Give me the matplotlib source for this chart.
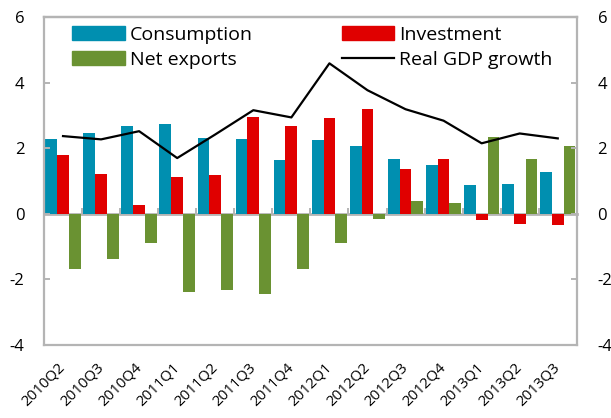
import matplotlib.pyplot as plt
import numpy as np
from matplotlib.patches import Patch
from matplotlib.lines import Line2D

plt.rcParams['font.family'] = ['Open Sans', 'DejaVu Sans']

quarters = ["2010Q2", "2010Q3", "2010Q4", "2011Q1", "2011Q2", "2011Q3", "2011Q4",
            "2012Q1", "2012Q2", "2012Q3", "2012Q4", "2013Q1", "2013Q2", "2013Q3"]
consumption = [2.28, 2.45, 2.67, 2.74, 2.32, 2.28, 1.65, 2.24, 2.06, 1.67, 1.49, 0.87, 0.91, 1.27]
investment = [1.79, 1.20, 0.27, 1.12, 1.17, 2.95, 2.68, 2.91, 3.19, 1.37, 1.67, -0.19, -0.32, -0.34]
net_exports = [-1.68, -1.39, -0.90, -2.40, -2.32, -2.45, -1.68, -0.88, -0.17, 0.40, 0.33, 2.33, 1.66, 2.08]
gdp_growth = [2.37, 2.27, 2.52, 1.70, 2.42, 3.16, 2.94, 4.59, 3.77, 3.19, 2.84, 2.15, 2.45, 2.30]

blue = "#008fb0"
red = "#e00000"
green = "#6a9232"
grey = "#b4b4b4"

fig = plt.figure(figsize=(6.11, 4.18), dpi=100)
ax = fig.add_axes([0.072, 0.175, 0.872, 0.784])

x = np.arange(len(quarters))
w = 0.31
ax.bar(x - w, consumption, w, color=blue, align='center')
ax.bar(x, investment, w, color=red, align='center')
ax.bar(x + w, net_exports, w, color=green, align='center')
ax.plot(x, gdp_growth, color="black", lw=1.6)

ax.set_xlim(-0.5, len(quarters) - 0.5)
ax.set_ylim(-4, 6)
ax.set_yticks([-4, -2, 0, 2, 4, 6])
ax.set_yticklabels(["-4", "-2", "0", "2", "4", "6"])

for s in ax.spines.values():
    s.set_color(grey)
    s.set_linewidth(1.6)

ax.tick_params(axis='y', direction='in', length=4, color=grey, width=1.4,
               pad=14, labelsize=12)
ax.set_xticks(x)
ax.set_xticklabels(quarters, rotation=45, ha='right', va='center',
                   rotation_mode='anchor')
ax.tick_params(axis='x', length=0, pad=15, labelsize=10.8)

# zero line with category boundary ticks
zero_pos = (0 - ax.get_ylim()[0]) / (ax.get_ylim()[1] - ax.get_ylim()[0])
sec = ax.secondary_xaxis(zero_pos)
sec.set_xticks(np.arange(len(quarters) + 1) - 0.5)
sec.tick_params(direction='in', length=4, color=grey, width=1.4, labelbottom=False)
sec.spines['bottom'].set_color(grey)
sec.spines['bottom'].set_linewidth(2)

ax2 = ax.twinx()
ax2.set_ylim(ax.get_ylim())
ax2.set_yticks([-4, -2, 0, 2, 4, 6])
ax2.set_yticklabels(["-4", "-2", "0", "2", "4", "6"])
ax2.tick_params(axis='y', direction='in', length=4, color=grey, width=1.4,
                pad=15, labelsize=12)
for s in ax2.spines.values():
    s.set_visible(False)
ax2.spines['top'].set_visible(True)
ax2.spines['top'].set_color(grey)
ax2.spines['top'].set_linewidth(1.6)

handles = [Patch(color=blue), Patch(color=red),
           Patch(color=green), Line2D([], [], color="black", lw=1.6)]
labels = ["Consumption", "Investment", "Net exports", "Real GDP growth"]
order = [0, 2, 1, 3]
ax.legend([handles[i] for i in order], [labels[i] for i in order], ncol=2,
          loc='upper left', bbox_to_anchor=(0.02, 1.027), frameon=False,
          fontsize=14, handlelength=2.7, handleheight=0.67,
          columnspacing=4.6, labelspacing=0.36, handletextpad=0.25)

fig.savefig("out.png", dpi=100)
